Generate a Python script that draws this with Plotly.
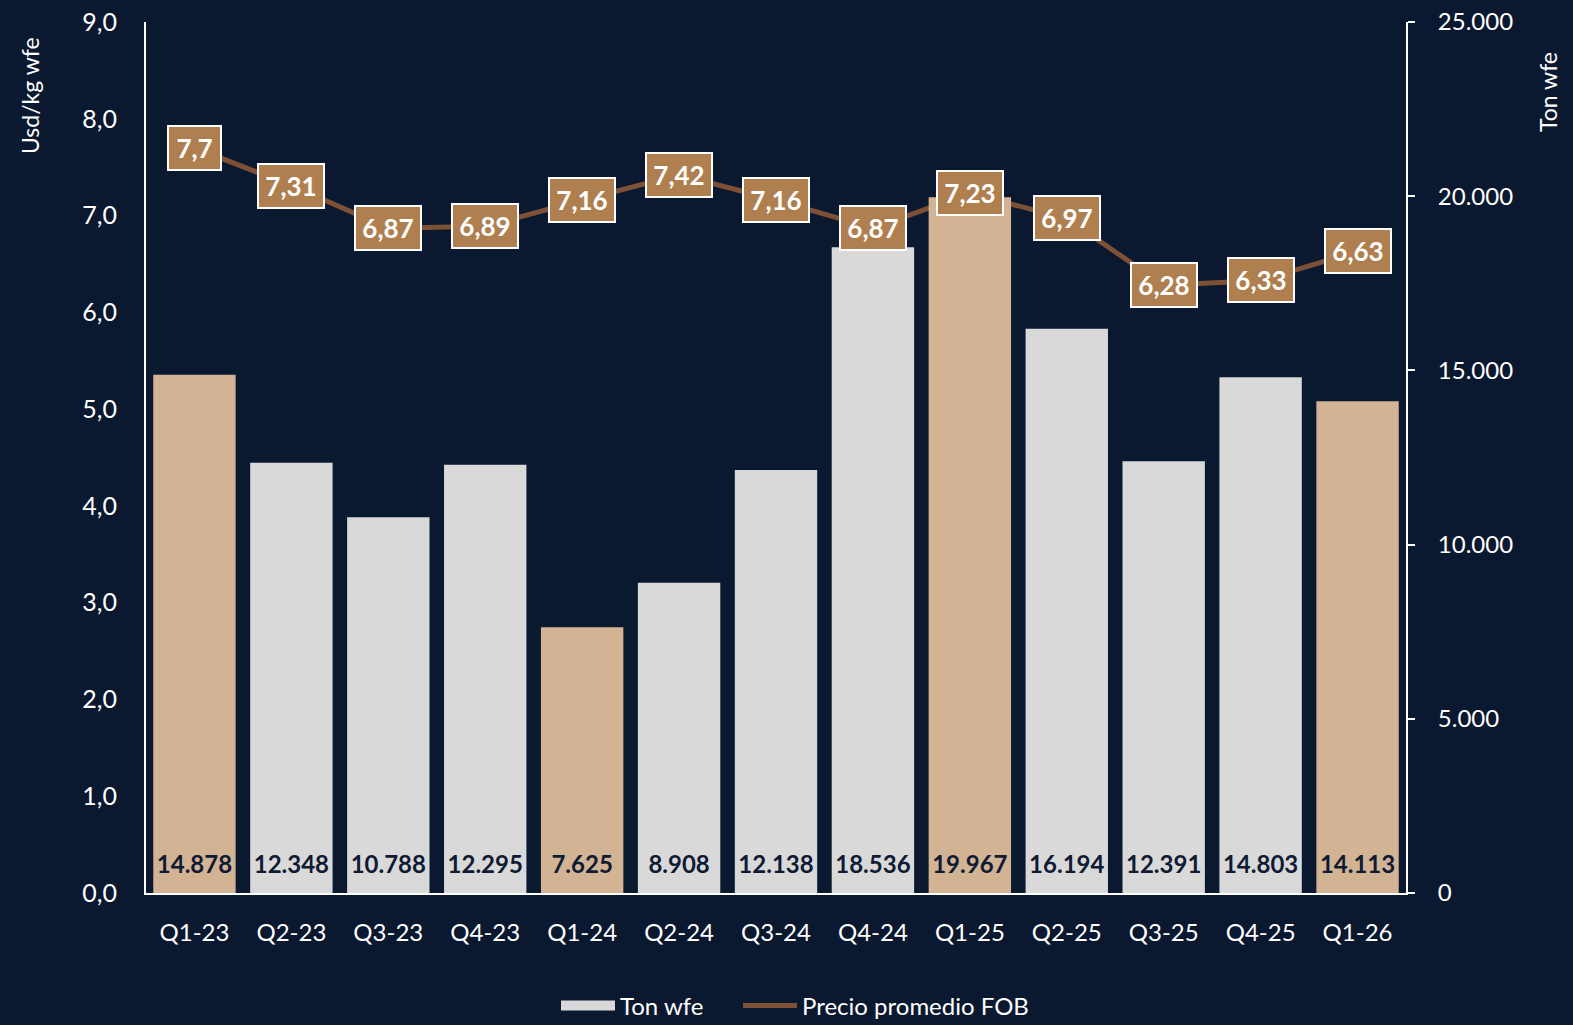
import plotly.graph_objects as go

categories = ["Q1-23", "Q2-23", "Q3-23", "Q4-23", "Q1-24", "Q2-24", "Q3-24",
              "Q4-24", "Q1-25", "Q2-25", "Q3-25", "Q4-25", "Q1-26"]
ton_wfe = [14878, 12348, 10788, 12295, 7625, 8908, 12138, 18536, 19967,
           16194, 12391, 14803, 14113]
precio_fob = [7.7, 7.31, 6.87, 6.89, 7.16, 7.42, 7.16, 6.87, 7.23, 6.97,
              6.28, 6.33, 6.63]
price_labels = ["7,7", "7,31", "6,87", "6,89", "7,16", "7,42", "7,16", "6,87",
                "7,23", "6,97", "6,28", "6,33", "6,63"]

BG = "#0a1830"
GRAY = "#d9d9d9"
TAN = "#d2b394"
LINE = "#7e5136"
BOX = "#b07f4f"
FONT = "Lato"

W, H = 1573, 1025
ML, MR, MT, MB = 146, 167, 22, 132
PW, PH = W - ML - MR, H - MT - MB


def px_x(p):
    return (p - ML) / PW


def px_y(p):
    return 1 - (p - MT) / PH


bar_colors = [TAN if c.startswith("Q1") else GRAY for c in categories]
LABEL_Y2 = 25000 * (893 - 867) / PH  # bar value labels sit near the bar base

fig = go.Figure()
fig.add_trace(go.Bar(
    x=categories, y=ton_wfe, yaxis="y2",
    marker=dict(color=bar_colors, line=dict(width=0)),
    showlegend=False, name="Ton wfe", hoverinfo="x+y",
))
fig.add_trace(go.Scatter(
    x=categories, y=[LABEL_Y2] * len(categories), yaxis="y2", mode="text",
    text=[f"{v:,}".replace(",", ".") for v in ton_wfe],
    textfont=dict(family=FONT, size=24, color="#0f1a33", weight="bold"),
    showlegend=False, hoverinfo="skip",
))
# legend entry for the bars (wide gray swatch)
fig.add_trace(go.Scatter(x=[None], y=[None], yaxis="y2", mode="lines",
                         name="Ton wfe", line=dict(color=GRAY, width=14),
                         legend="legend"))
fig.add_trace(go.Scatter(
    x=categories, y=precio_fob, mode="lines", name="Precio promedio FOB",
    line=dict(color=LINE, width=5), legend="legend2",
))

for c, v, t in zip(categories, precio_fob, price_labels):
    fig.add_annotation(x=c, y=v, xref="x", yref="y", text="<b>" + t + "</b>",
                       showarrow=False, bgcolor=BOX, bordercolor="white",
                       borderwidth=2, borderpad=5, width=len(t) * 13 + 2,
                       xanchor="center", yanchor="middle",
                       font=dict(family=FONT, size=26, color="white"))

fig.add_annotation(x=px_x(30), y=px_y(95), xref="paper", yref="paper",
                   text="Usd/kg wfe", showarrow=False, textangle=-90,
                   xanchor="center", yanchor="middle",
                   font=dict(family=FONT, size=23, color="white"))
fig.add_annotation(x=px_x(1548), y=px_y(92), xref="paper", yref="paper",
                   text="Ton wfe", showarrow=False, textangle=-90,
                   xanchor="center", yanchor="middle",
                   font=dict(family=FONT, size=23, color="white"))

legend_style = dict(orientation="h", xanchor="left", y=px_y(1006),
                    yanchor="middle", font=dict(size=24, color="white"),
                    bgcolor="rgba(0,0,0,0)", itemwidth=54)

fig.update_layout(
    width=W, height=H,
    paper_bgcolor=BG, plot_bgcolor=BG,
    separators=",.",
    margin=dict(l=ML, r=MR, t=MT, b=MB, autoexpand=False),
    bargap=0.15,
    font=dict(family=FONT, color="white", size=24),
    xaxis=dict(range=[-0.5, len(categories) - 0.5], showgrid=False,
               showline=True, linecolor="white", linewidth=2,
               ticks="", tickfont=dict(size=24, color="white"),
               ticklabelstandoff=17),
    yaxis=dict(range=[0, 9], dtick=1, tickformat=".1f", showgrid=False,
               showline=True, linecolor="white", linewidth=2, ticks="",
               zeroline=False, ticklabelstandoff=22,
               tickfont=dict(size=25, color="white")),
    yaxis2=dict(range=[0, 25000], dtick=5000, tickformat=",d", overlaying="y",
                side="right", showgrid=False, showline=True, linecolor="white",
                linewidth=2, ticks="outside", ticklen=7, tickcolor="white",
                tickwidth=2, zeroline=False, ticklabelstandoff=18,
                tickfont=dict(size=24, color="white")),
    legend=dict(x=px_x(556), **legend_style),
    legend2=dict(x=px_x(738), **legend_style),
)

fig.write_html(
    "out.html",
    config={"displayModeBar": False},
    post_script="document.body.style.margin='0';document.body.style.background='%s';" % BG,
)
